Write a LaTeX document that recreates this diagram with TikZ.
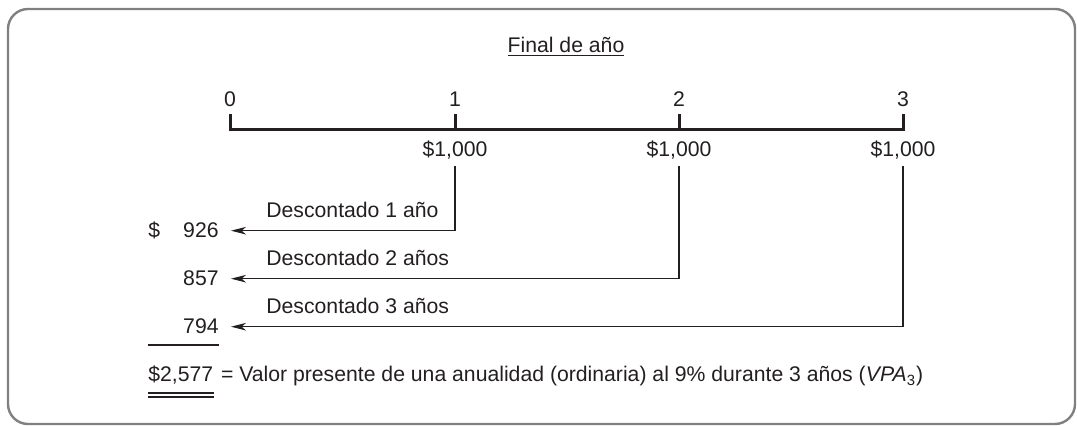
\documentclass[tikz,border=0pt]{standalone}
\usepackage{fontspec}
\setmainfont{Liberation Sans}
\usetikzlibrary{positioning,arrows.meta,calc}
\definecolor{ink}{RGB}{35,31,32}
\definecolor{framegray}{RGB}{128,128,128}
\tikzset{
  txt/.style = {inner sep=0pt, text=ink, font=\fontsize{10.6}{12}\selectfont},
  val/.style = {txt, anchor=base east},
  pay/.style = {txt, anchor=base},
  disc/.style = {txt, anchor=base west},
  axis/.style = {draw=ink, line width=1.5pt},
  flow/.style = {draw=ink, line width=0.6pt,
    -{Stealth[length=7.5pt,width=3.8pt,inset=2.2pt]},
    shorten <=3pt, shorten >=6pt},
  rule/.style = {draw=ink, line width=0.6pt},
  framebox/.style = {draw=framegray, line width=1.2pt, rounded corners=10pt}
}

\begin{document}
\begin{tikzpicture}[x=0.5pt,y=-0.5pt]
\useasboundingbox (0,0) rectangle (1077,426);
\draw[framebox] (8,9) rectangle (1075,424);
% time line
\node[txt] (title) at (566,47) {\underline{Final de año}};
\draw[axis] (230,114) -- (230,130) -- (903,130) -- (903,114);
\draw[axis] (455,114) -- (455,130);
\draw[axis] (679,114) -- (679,130);
\foreach \yr/\xx in {0/230,1/455,2/679,3/903}
  \node[txt] (yr\yr) at (\xx,99) {\yr};
\node[pay] (pay1) at (455,157) {\$1,000};
\node[pay] (pay2) at (679,157) {\$1,000};
\node[pay] (pay3) at (903,157) {\$1,000};
% present values
\node[disc] (dol) at (148,238) {\$};
\node[val] (pv1) at (219,238) {926};
\node[val] (pv2) at (219,286) {857};
\node[val] (pv3) at (219,334) {794};
\node[disc] (d1) at (266,218) {Descontado 1 año};
\node[disc] (d2) at (266,266) {Descontado 2 años};
\node[disc] (d3) at (266,314) {Descontado 3 años};
\draw[flow] (pay1) |- (pv1);
\draw[flow] (pay2) |- (pv2);
\draw[flow] (pay3) |- (pv3);
% sum
\coordinate (u1) at ([yshift=-5.5pt]pv3.base east);
\draw[rule] (u1) -- (u1 -| dol.west);
\node[disc] (total) at (148,382) {\$2,577};
\node[disc, right=3.5pt of total.base east, anchor=base west] (pvtext)
  {= Valor presente de una anualidad (ordinaria) al 9\% durante 3 años (\textit{VPA}\textsubscript{3})};
\coordinate (u2) at ([yshift=-5.5pt]total.base east);
\coordinate (u3) at ([yshift=-7.5pt]total.base east);
\draw[rule] (u2) -- (u2 -| total.west);
\draw[rule] (u3) -- (u3 -| total.west);
\end{tikzpicture}
\end{document}
